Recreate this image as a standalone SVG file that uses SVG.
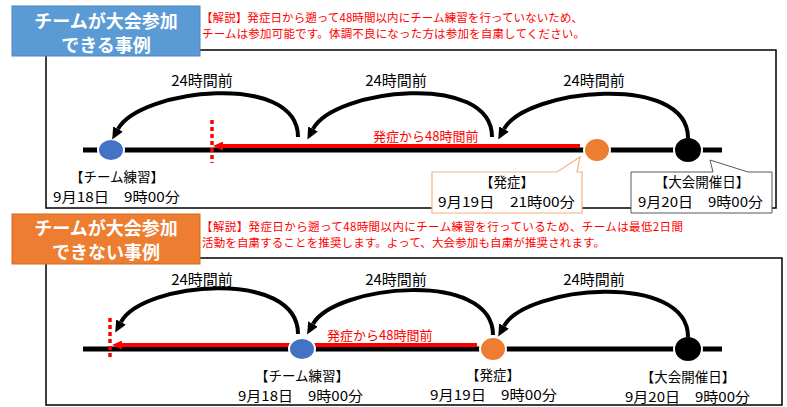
<svg xmlns="http://www.w3.org/2000/svg" width="787" height="407" viewBox="0 0 787 407">
<defs>
<style>
text{font-family:"Noto Sans CJK JP","Noto Sans",sans-serif;}
.title{fill:#fff;font-size:18px;font-weight:bold;text-anchor:middle;}
.desc{fill:#FF0000;font-size:11.5px;}
.lbl{fill:#000;font-size:13.5px;text-anchor:middle;}
.dt{fill:#000;font-size:13.5px;}
.hrs{fill:#000;font-size:15px;text-anchor:middle;}
.red{fill:#FF0000;font-size:13px;}
.frame{fill:none;stroke:#000;stroke-width:1.5;}
.axis{stroke:#000;stroke-width:5;}
.redline{stroke:#FF0000;stroke-width:4;marker-end:url(#rh);}
.dots{stroke:#FF0000;stroke-width:3.5;stroke-dasharray:4 3;}
.arc{fill:none;stroke:#000;stroke-width:4;marker-end:url(#ah);}
.dot{stroke:#fff;stroke-width:2;}
</style>
<marker id="ah" viewBox="0 0 12 11" refX="0" refY="5.5" markerWidth="12" markerHeight="11" markerUnits="userSpaceOnUse" orient="auto"><path d="M0,0 L12,5.5 L0,11 z" fill="#000"/></marker>
<marker id="rh" viewBox="0 0 10 9" refX="0" refY="4.5" markerWidth="10" markerHeight="9" markerUnits="userSpaceOnUse" orient="auto"><path d="M0,0 L10,4.5 L0,9 z" fill="#FF0000"/></marker>
</defs>
<rect width="787" height="407" fill="#fff"/>

<!-- frames -->
<g id="frame-top"><rect class="frame" x="46" y="50" width="730" height="158"/></g>
<g id="frame-bottom"><rect class="frame" x="46" y="258" width="736" height="147"/></g>

<!-- titles -->
<g id="title-top">
<rect x="12" y="6" width="188" height="50" fill="#5B9BD5" stroke="#4A86C0" stroke-width="1"/>
<text class="title" x="106" y="28">チームが大会参加</text>
<text class="title" x="106" y="52">できる事例</text>
</g>
<g id="title-bottom">
<rect x="12" y="214" width="188" height="50" fill="#ED7D31" stroke="#D46A22" stroke-width="1"/>
<text class="title" x="106" y="235">チームが大会参加</text>
<text class="title" x="106" y="259">できない事例</text>
</g>

<!-- descriptions -->
<g id="desc-top">
<text class="desc" x="201" y="22" textLength="382" lengthAdjust="spacing">【解説】発症日から遡って48時間以内にチーム練習を行っていないため、</text>
<text class="desc" x="202" y="38" textLength="383" lengthAdjust="spacing">チームは参加可能です。体調不良になった方は参加を自粛してください。</text>
</g>
<g id="desc-bottom">
<text class="desc" x="201" y="231" textLength="482" lengthAdjust="spacing">【解説】発症日から遡って48時間以内にチーム練習を行っているため、チームは最低2日間</text>
<text class="desc" x="202" y="247" textLength="403" lengthAdjust="spacing">活動を自粛することを推奨します。よって、大会参加も自粛が推奨されます。</text>
</g>

<!-- timelines -->
<g id="connectors">
<line class="axis" x1="83" y1="150" x2="722" y2="150"/>
<line class="redline" x1="580" y1="146" x2="223" y2="146"/>
<line class="dots" x1="212" y1="120" x2="212" y2="163"/>
<line class="axis" x1="83" y1="349" x2="722" y2="349"/>
<line class="redline" x1="477" y1="345" x2="122" y2="345"/>
<line class="dots" x1="110" y1="318" x2="110" y2="359"/>
</g>

<g id="top-practice">
<ellipse class="dot" cx="111" cy="150" rx="13" ry="11" fill="#4472C4"/>
<text class="lbl" x="117" y="182">【チーム練習】</text>
<text class="dt" x="53" y="202" textLength="127" lengthAdjust="spacingAndGlyphs">9月18日　9時00分</text>
</g>
<g id="top-onset">
<ellipse class="dot" cx="597" cy="150" rx="13" ry="12" fill="#ED7D31"/>
</g>
<g id="top-event">
<ellipse class="dot" cx="688" cy="150" rx="14" ry="13" fill="#000"/>
</g>

<g id="bottom-practice">
<ellipse class="dot" cx="302" cy="349" rx="13" ry="11" fill="#4472C4"/>
<text class="lbl" x="302" y="381">【チーム練習】</text>
<text class="dt" x="238" y="401" textLength="125" lengthAdjust="spacingAndGlyphs">9月18日　9時00分</text>
</g>
<g id="bottom-onset">
<ellipse class="dot" cx="493" cy="349" rx="13" ry="12" fill="#ED7D31"/>
<text class="lbl" x="493" y="380">【発症】</text>
<text class="dt" x="430" y="400" textLength="127" lengthAdjust="spacingAndGlyphs">9月19日　9時00分</text>
</g>
<g id="bottom-event">
<ellipse class="dot" cx="688" cy="349" rx="14" ry="13" fill="#000"/>
<text class="lbl" x="688" y="382">【大会開催日】</text>
<text class="dt" x="625" y="402" textLength="125" lengthAdjust="spacingAndGlyphs">9月20日　9時00分</text>
</g>

<g id="arcs">
<path class="arc" d="M688,138 C688,72 526,89 504,129"/>
<path class="arc" d="M492,137 C492,71 334,89 313,129"/>
<path class="arc" d="M298,137 C298,71 140,89 118,129"/>
<path class="arc" d="M688,337 C688,271 526,286 504,326"/>
<path class="arc" d="M493,335 C493,269 335,285 313,324"/>
<path class="arc" d="M298,334 C298,268 143,282 121,322"/>
</g>

<g id="arc-labels">
<text class="hrs" x="202" y="86">24時間前</text>
<text class="hrs" x="396" y="86">24時間前</text>
<text class="hrs" x="594" y="86">24時間前</text>
<text class="hrs" x="202" y="285">24時間前</text>
<text class="hrs" x="396" y="285">24時間前</text>
<text class="hrs" x="594" y="285">24時間前</text>
<text class="red" x="373" y="141">発症から48時間前</text>
<text class="red" x="327" y="340">発症から48時間前</text>
</g>

<g id="callout-onset">
<path d="M432,172 L557,172 L580,157 L577,172 L582,172 L582,213 L432,213 Z" fill="#fff" stroke="#F4B183" stroke-width="1.2"/>
<text class="lbl" x="507" y="187">【発症】</text>
<text class="dt" x="438" y="207" textLength="137" lengthAdjust="spacingAndGlyphs">9月19日　21時00分</text>
</g>
<g id="callout-event">
<path d="M631,172 L713,172 L710,160 L748,172 L772,172 L772,213 L631,213 Z" fill="#fff" stroke="#595959" stroke-width="1"/>
<text class="lbl" x="702" y="187">【大会開催日】</text>
<text class="dt" x="638" y="207" textLength="125" lengthAdjust="spacingAndGlyphs">9月20日　9時00分</text>
</g>
</svg>
